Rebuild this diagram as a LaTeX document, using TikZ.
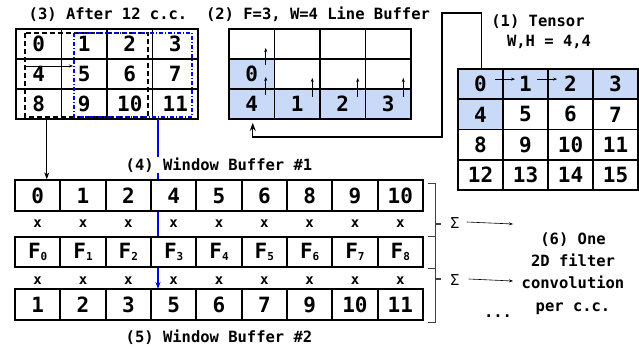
\documentclass[tikz,border=0pt]{standalone}
\usepackage{fontspec}
\setmonofont{DejaVu Sans Mono}
\usetikzlibrary{arrows.meta}
\definecolor{lbfill}{HTML}{C9DAF8}
\definecolor{bluel}{HTML}{0000FF}
\definecolor{brgray}{HTML}{404040}
\newcommand{\Fsub}[1]{F{\fontsize{11}{11}\selectfont\raisebox{-1.5pt}{#1}}}
\begin{document}
\begin{tikzpicture}[x=1pt,y=-1pt,
  cell/.style={draw, line width=1.8pt, fill=white, minimum width=45.5pt, minimum height=30pt, inner sep=0pt,
    font=\ttfamily\bfseries\fontsize{21}{21}\selectfont},
  tcell/.style={cell, minimum width=45pt, minimum height=30.25pt},
  wcell/.style={cell, minimum width=45.33pt, minimum height=30.5pt},
  hl/.style={fill=lbfill},
  ttl/.style={font=\ttfamily\bfseries\fontsize{15.5}{15.5}\selectfont, inner sep=1pt},
  xl/.style={font=\ttfamily\bfseries\fontsize{14}{14}\selectfont, inner sep=0pt},
  thinarrow/.style={-{Stealth[length=4pt,width=3pt]}, line width=0.6pt},
  brace/.style={draw=brgray, line width=0.8pt},
]
\useasboundingbox (0,0) rectangle (639,348);

% ---------- blue connector (drawn first, hidden by boxes) ----------
\coordinate (bstart) at (158,119);
\coordinate (bend) at (158,289);
\draw[bluel, line width=1.1pt, -{Stealth[length=7pt,width=5pt]}] (bstart) -- (bend);

% ---------- (3) After 12 c.c. ----------
\node[ttl] (t3) at (108,15) {(3) After 12 c.c.};
\foreach \r in {1,2,3}{
  \foreach \c in {1,2,3,4}{
    \pgfmathtruncatemacro{\v}{4*(\r-1)+(\c-1)}
    \node[cell] (g\r\c) at ({16+22.75+45.5*(\c-1)},{44+30*(\r-1)}) {\v};
  }
}
\draw[dashed, line width=1.1pt, dash pattern=on 5pt off 3pt] (25,33) rectangle (148,117);
\draw[bluel, line width=1.1pt, dash pattern=on 4pt off 2pt on 1pt off 2pt] (74,33) rectangle (192,117);
\coordinate (sa1) at (26,66);
\coordinate (sa2) at (73,66);
\draw[thinarrow] (sa1) -- (sa2);
\draw[bluel, line width=1.1pt] (bstart) -- (158,122);

% ---------- (2) Line buffer ----------
\node[ttl] (t2) at (318,14) {(2) F=3, W=4 Line Buffer};
\foreach \r in {1,2,3}{
  \foreach \c in {1,2,3,4}{
    \node[cell] (l\r\c) at ({229+22.75+45.5*(\c-1)},{44+30*(\r-1)}) {};
  }
}
\foreach \c/\v in {1/4,2/1,3/2,4/3}{
  \node[cell,hl] (l3\c) at ({229+22.75+45.5*(\c-1)},104) {\v};
}
\node[cell,hl] (l21) at (251.75,74) {0};
\draw[thinarrow] ([xshift=14pt,yshift=9pt]l21.center) -- ([xshift=14pt,yshift=26pt]l21.center);
\draw[thinarrow] ([xshift=14pt,yshift=9pt]l31.center) -- ([xshift=14pt,yshift=27pt]l31.center);
\foreach \c in {2,3,4}{
  \draw[thinarrow] ([xshift=15pt,yshift=7pt]l3\c.center) -- ([xshift=15pt,yshift=26pt]l3\c.center);
}

% ---------- (1) Tensor ----------
\node[ttl] (t1a) at (538,22) {(1) Tensor};
\node[ttl] (t1b) at (549,42) {W,H = 4,4};
\foreach \r in {1,2,3,4}{
  \foreach \c in {1,2,3,4}{
    \pgfmathtruncatemacro{\v}{4*(\r-1)+(\c-1)}
    \pgfmathtruncatemacro{\h}{(\r==1) || (\r==2 && \c==1)}
    \ifnum\h=1
      \node[tcell,hl] (s\r\c) at ({458+22.5+45*(\c-1)},{84.1+30.25*(\r-1)}) {\v};
    \else
      \node[tcell] (s\r\c) at ({458+22.5+45*(\c-1)},{84.1+30.25*(\r-1)}) {\v};
    \fi
  }
}
\draw[thinarrow] ([xshift=-7pt,yshift=5pt]s12.west) -- ([xshift=13pt,yshift=5pt]s12.west);
\draw[thinarrow] ([xshift=-10pt,yshift=5pt]s13.west) -- ([xshift=10pt,yshift=5pt]s13.west);

% tensor -> line buffer
\draw[line width=1.3pt, -{Stealth[length=8pt,width=6pt]}]
  ([xshift=1pt]s11.north) |- (442,13) -- (442,137) -| ([xshift=1pt,yshift=-3pt]l31.south);

% ---------- Window buffers ----------
\node[ttl, fill=white] (t4) at (219,165) {(4) Window Buffer \#1};
\node[ttl] (t5) at (219,337) {(5) Window Buffer \#2};
\foreach \v [count=\i] in {0,1,2,4,5,6,8,9,10}{
  \node[wcell] (w1\i) at ({15+22.67+45.33*(\i-1)},195.5) {\v};
}
\foreach \i in {1,...,9}{
  \pgfmathtruncatemacro{\k}{\i-1}
  \node[wcell] (f\i) at ({15+22.67+45.33*(\i-1)},252) {\Fsub{\k}};
  \node[xl] (xa\i) at ({15+22.67+45.33*(\i-1)},224) {x};
  \node[xl] (xb\i) at ({15+22.67+45.33*(\i-1)},281) {x};
}
\foreach \v [count=\i] in {1,2,3,5,6,7,9,10,11}{
  \node[wcell] (w2\i) at ({15+22.67+45.33*(\i-1)},304.5) {\v};
}

% black connector from (3) to window buffer #1
\draw[line width=1.1pt, -{Stealth[length=7pt,width=5pt]}] ([xshift=8pt]g31.south) -- ([xshift=8pt]g31.south |- w11.north);

% ---------- braces, sums ----------
\draw[brace] (428,183) -- (435,183) -- (435,268) -- (428,268);
\draw[brace, line width=1.2pt] (435,224) -- (441,224);
\draw[brace] (428,236) -- (435,236) -- (435,322) -- (428,322);
\draw[brace, line width=1.2pt] (435,279) -- (441,279);
\node[ttl, font=\ttfamily\fontsize{15}{15}\selectfont] (sig1) at (455,223) {Σ};
\node[ttl, font=\ttfamily\fontsize{15}{15}\selectfont] (sig2) at (455,280) {Σ};
\node[ttl, align=center, font=\ttfamily\bfseries\fontsize{15.5}{22.3}\selectfont] (conv) at (573,273.5)
  {(6) One\\2D filter\\convolution\\per c.c.};
\draw[thinarrow] (sig1.east) ++(6pt,1pt) -- (513,224);
\draw[thinarrow] (sig2.east) ++(8pt,1pt) -- (513,281);
\node[ttl] (dots) at (498,316) {...};
\end{tikzpicture}
\end{document}
